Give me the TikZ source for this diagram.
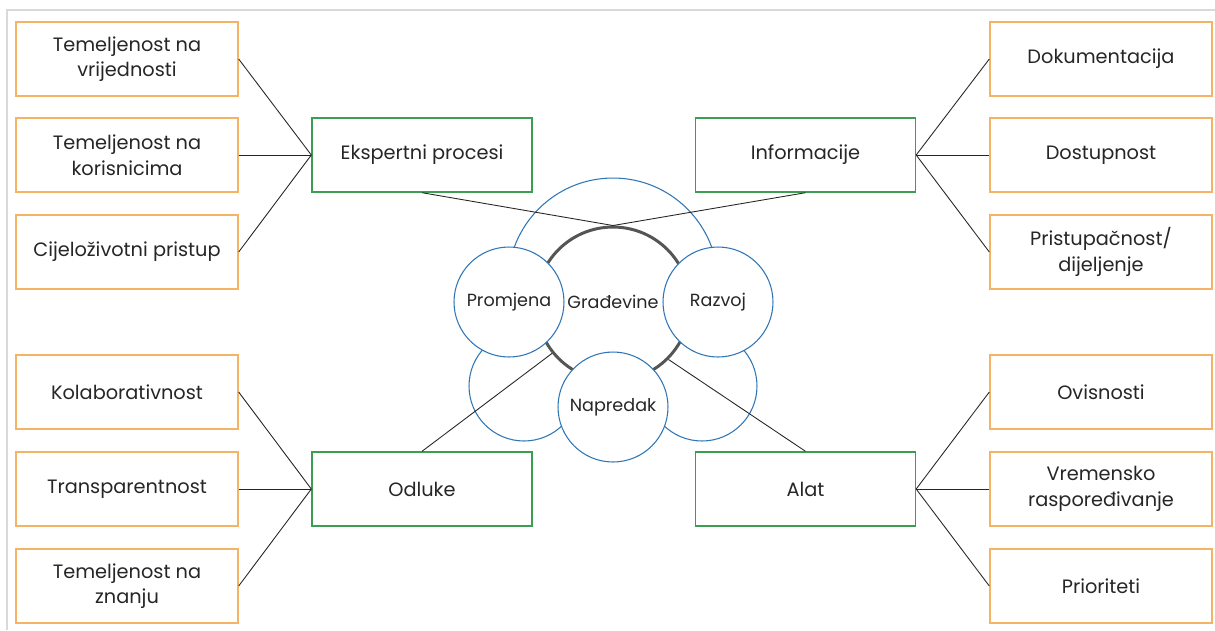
\documentclass[tikz,border=0pt]{standalone}
\usepackage{fontspec}
\setmainfont{Poppins}
\usepackage{tikz}
\definecolor{boxorange}{RGB}{245,180,100}
\definecolor{boxgreen}{RGB}{60,158,82}
\definecolor{circblue}{RGB}{46,117,182}
\definecolor{ringgray}{RGB}{85,85,85}
\definecolor{textgray}{RGB}{38,38,38}
\tikzset{%
    leaf/.style={%
        draw=boxorange, line width=0.8pt, fill=white, text=textgray,
        minimum width=4.44cm, minimum height=1.48cm, inner sep=0pt,
        align=center, font=\fontsize{11}{14.5}\selectfont
    },
    hub/.style={%
        leaf, draw=boxgreen, minimum width=4.4cm
    },
    bubble/.style={%
        circle, draw=circblue, line width=0.6pt, fill=white, text=textgray,
        minimum size=2.2cm, inner sep=0pt, font=\fontsize{10}{14}\selectfont
    },
    link/.style={draw=black!85, line width=0.5pt}
}

\begin{document}
\begin{tikzpicture}[x=0.02cm, y=-0.02cm]
    \useasboundingbox (0,0) rectangle (1215,630);
    \draw[gray!30, line width=1.2pt] (7,630)--(7,10)--(1215,10);
    % hubs
    \node[hub] (eksp) at (422,155) {Ekspertni procesi};
    \node[hub] (info) at (805.5,155) {Informacije};
    \node[hub] (odl) at (422,489) {Odluke};
    \node[hub] (alat) at (805.5,489) {Alat};
    % left leaves
    \foreach \y/\name/\txt/\hubname in {59/vrij/{Temeljenost na\\vrijednosti}/eksp,
        155/kor/{Temeljenost na\\korisnicima}/eksp,
        252/cijel/{Cijeloživotni pristup}/eksp,
        392/kolab/{Kolaborativnost}/odl,
        489/transp/{Transparentnost}/odl,
        586/znanje/{Temeljenost na\\znanju}/odl}
    {
    \node[leaf] (\name) at (127,\y) {\txt};
    \draw[link] (\name.east)--(\hubname.west);
    }
    % right leaves
    \foreach \y/\name/\txt/\hubname in {59/dok/{Dokumentacija}/info,
        155/dost/{Dostupnost}/info,
        252/prist/{Pristupačnost/\\dijeljenje}/info,
        392/ovis/{Ovisnosti}/alat,
        489/vrem/{Vremensko\\raspoređivanje}/alat,
        586/prior/{Prioriteti}/alat}
    {
    \node[leaf] (\name) at (1101,\y) {\txt};
    \draw[link] (\name.west)--(\hubname.east);
    }
    % center
    \node[bubble, minimum size=4.2cm] (gtop) at (613,283) {};
    \node[bubble] (gleft) at (524,386) {};
    \node[bubble] (gright) at (702,386) {};
    \node[circle, draw=ringgray, line width=1.7pt, fill=white, text=textgray,
        minimum size=3.08cm, inner sep=0pt, font=\fontsize{10}{14}\selectfont] (grad) at (613,304) {\raisebox{3pt}{Građevine}};
    \node[bubble] (prom) at (509,302) {Promjena};
    \node[bubble] (razv) at (718,302) {Razvoj};
    \node[bubble] (napr) at (613,407) {Napredak};
    \draw[link] (eksp.south)--(grad.north);
    \draw[link] (info.south)--(grad.north);
    \draw[link] (odl.north)--(grad.219);
    \draw[link] (alat.north)--(grad.315);
\end{tikzpicture}
\end{document}
